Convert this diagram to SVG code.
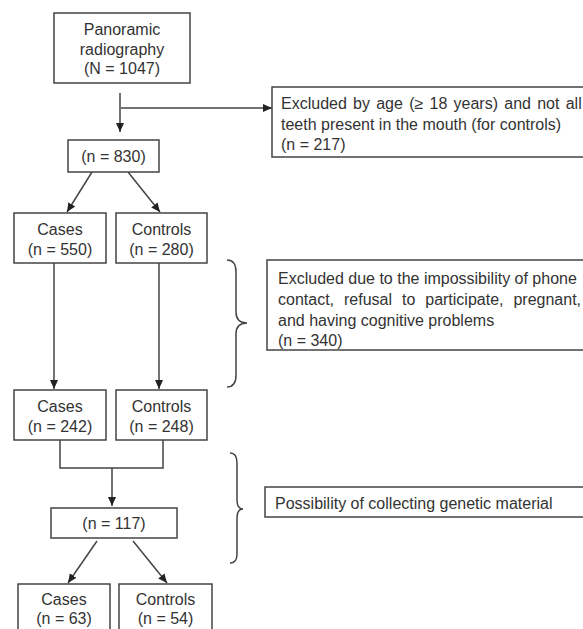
<svg xmlns="http://www.w3.org/2000/svg" width="583" height="629" viewBox="0 0 583 629">
<style>
  .box { fill: #ffffff; stroke: #444444; stroke-width: 1.5; }
  .t { font-family: "Liberation Sans", Arial, sans-serif; font-size: 16px; fill: #333333; }
  .c { text-anchor: middle; }
  .ln { fill: none; stroke: #444444; stroke-width: 1.5; }
  .arr { marker-end: url(#ah); }
</style>
<defs>
  <marker id="ah" markerWidth="10" markerHeight="10" refX="9" refY="5" orient="auto" markerUnits="userSpaceOnUse">
    <path d="M0,1 L9,5 L0,9 Z" fill="#222222"/>
  </marker>
</defs>
<rect width="583" height="629" fill="#ffffff"/>

<g id="connectors">
  <path class="ln arr" d="M120,93 L120,132"/>
  <path class="ln arr" d="M121,108 L272,108"/>
  <path class="ln arr" d="M92,172 L67,212"/>
  <path class="ln arr" d="M128,172 L160,212"/>
  <path class="ln arr" d="M54,263 L54,389"/>
  <path class="ln arr" d="M159,263 L159,389"/>
  <path class="ln" d="M60,440 L60,468 L163,468 L163,440"/>
  <path class="ln arr" d="M112,468 L112,506"/>
  <path class="ln arr" d="M97,541 L68,583"/>
  <path class="ln arr" d="M133,541 L167,583"/>
  <path class="ln" d="M227,260 Q236,260 236,272 L236,312 Q236,323 247,323 Q236,323 236,334 L236,375 Q236,387 227,387"/>
  <path class="ln" d="M230,453 Q237,453 237,463 L237,500 Q237,509 243,509 Q237,509 237,518 L237,554 Q237,563 230,563"/>
</g>

<g id="n_panoramic">
  <rect class="box" x="54" y="13" width="136" height="70"/>
  <text class="t c" x="122" y="35">Panoramic</text>
  <text class="t c" x="122" y="54.5">radiography</text>
  <text class="t c" x="122" y="74">(N = 1047)</text>
</g>
<g id="n_excl1">
  <rect class="box" x="272" y="87" width="330" height="70"/>
  <text class="t" x="281" y="109" word-spacing="1.8">Excluded by age (≥ 18 years) and not all</text>
  <text class="t" x="281" y="130">teeth present in the mouth (for controls)</text>
  <text class="t" x="281" y="150">(n = 217)</text>
</g>
<g id="n_830">
  <rect class="box" x="68" y="140" width="91" height="32"/>
  <text class="t c" x="113.5" y="162">(n = 830)</text>
</g>
<g id="n_cases550">
  <rect class="box" x="14" y="213" width="92" height="50"/>
  <text class="t c" x="60" y="235">Cases</text>
  <text class="t c" x="60" y="255">(n = 550)</text>
</g>
<g id="n_controls280">
  <rect class="box" x="116" y="213" width="91" height="50"/>
  <text class="t c" x="161.5" y="235">Controls</text>
  <text class="t c" x="161.5" y="255">(n = 280)</text>
</g>
<g id="n_excl2">
  <rect class="box" x="267" y="260" width="330" height="90"/>
  <text class="t" x="278" y="284">Excluded due to the impossibility of phone</text>
  <text class="t" x="278" y="305" word-spacing="5.5">contact, refusal to participate, pregnant,</text>
  <text class="t" x="278" y="326">and having cognitive problems</text>
  <text class="t" x="278" y="346">(n = 340)</text>
</g>
<g id="n_cases242">
  <rect class="box" x="14" y="390" width="92" height="50"/>
  <text class="t c" x="60" y="412">Cases</text>
  <text class="t c" x="60" y="432">(n = 242)</text>
</g>
<g id="n_controls248">
  <rect class="box" x="116" y="390" width="91" height="50"/>
  <text class="t c" x="161.5" y="412">Controls</text>
  <text class="t c" x="161.5" y="432">(n = 248)</text>
</g>
<g id="n_117">
  <rect class="box" x="51" y="508" width="126" height="30"/>
  <text class="t c" x="114" y="529">(n = 117)</text>
</g>
<g id="n_genetic">
  <rect class="box" x="265" y="487" width="330" height="30"/>
  <text class="t" x="275" y="509">Possibility of collecting genetic material</text>
</g>
<g id="n_cases63">
  <rect class="box" x="18" y="584" width="92" height="60"/>
  <text class="t c" x="64" y="605">Cases</text>
  <text class="t c" x="64" y="624">(n = 63)</text>
</g>
<g id="n_controls54">
  <rect class="box" x="119" y="584" width="93" height="60"/>
  <text class="t c" x="165.5" y="605">Controls</text>
  <text class="t c" x="165.5" y="624">(n = 54)</text>
</g>
</svg>
